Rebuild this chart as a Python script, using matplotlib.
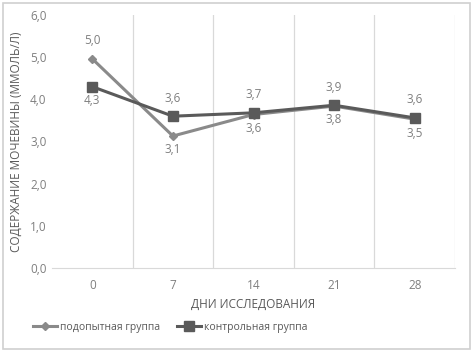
import matplotlib.pyplot as plt
from matplotlib.patches import Rectangle

plt.rcParams['font.family'] = ['Open Sans', 'DejaVu Sans']

days = ['0', '7', '14', '21', '28']
experimental = [4.96, 3.13, 3.64, 3.84, 3.53]
control = [4.30, 3.60, 3.68, 3.86, 3.56]
exp_pos = ['above', 'below', 'below', 'below', 'below']
ctl_pos = ['below', 'above', 'above', 'above', 'above']

c_exp = '#8a8a8a'
c_ctl = '#5a5a5a'
c_txt = '#7f7f7f'

fig = plt.figure(figsize=(4.73, 3.52), dpi=100)
fig.patches.append(Rectangle((0.006, 0.009), 0.988, 0.982, transform=fig.transFigure,
                             fill=False, edgecolor='#d0d0d0', lw=1.2))
ax = fig.add_axes([52 / 473, 1 - 268 / 352, 403 / 473, 253 / 352])

x = list(range(len(days)))
ax.plot(x, experimental, color=c_exp, lw=2.2, marker='D', ms=4.5, label='подопытная группа', zorder=3)
ax.plot(x, control, color=c_ctl, lw=2.2, marker='s', ms=6.5, label='контрольная группа', zorder=4)

def fmt(v):
    return f'{v:.1f}'.replace('.', ',')

for xi, v, p in zip(x, experimental, exp_pos):
    ax.annotate(fmt(v), (xi, v), xytext=(0, 13 if p == 'above' else -10), textcoords='offset points',
                ha='center', va='center', fontsize=8.5, color=c_txt)
for xi, v, p in zip(x, control, ctl_pos):
    ax.annotate(fmt(v), (xi, v), xytext=(0, 13 if p == 'above' else -10), textcoords='offset points',
                ha='center', va='center', fontsize=8.5, color=c_txt)

ax.set_xlim(-0.5, len(days) - 0.5)
ax.set_ylim(0, 6)
ax.set_yticks([0, 1, 2, 3, 4, 5, 6])
ax.set_yticklabels([fmt(v) for v in [0, 1, 2, 3, 4, 5, 6]])
ax.set_xticks(x)
ax.set_xticklabels(days)
for b in [0.5, 1.5, 2.5, 3.5, 4.5]:
    ax.axvline(b, color='#d9d9d9', lw=0.9, zorder=0)
for s in ['top', 'right', 'left']:
    ax.spines[s].set_visible(False)
ax.spines['bottom'].set_color('#d9d9d9')
ax.tick_params(axis='y', length=0, labelsize=8.5, colors=c_txt, pad=4)
ax.tick_params(axis='x', length=0, labelsize=8.5, colors=c_txt, pad=8)
ax.set_xlabel('ДНИ ИССЛЕДОВАНИЯ', fontsize=8.5, color='#595959', labelpad=4)
ax.set_ylabel('СОДЕРЖАНИЕ МОЧЕВИНЫ (ММОЛЬ/Л)', fontsize=8.5, color='#595959', labelpad=5)

fig.legend(loc='lower left', bbox_to_anchor=(24 / 473, 10 / 352), ncol=2, frameon=False,
           fontsize=7.5, labelcolor='#595959', handlelength=2.3, handletextpad=0.3, columnspacing=1.6)

fig.savefig('out.png', dpi=100)
